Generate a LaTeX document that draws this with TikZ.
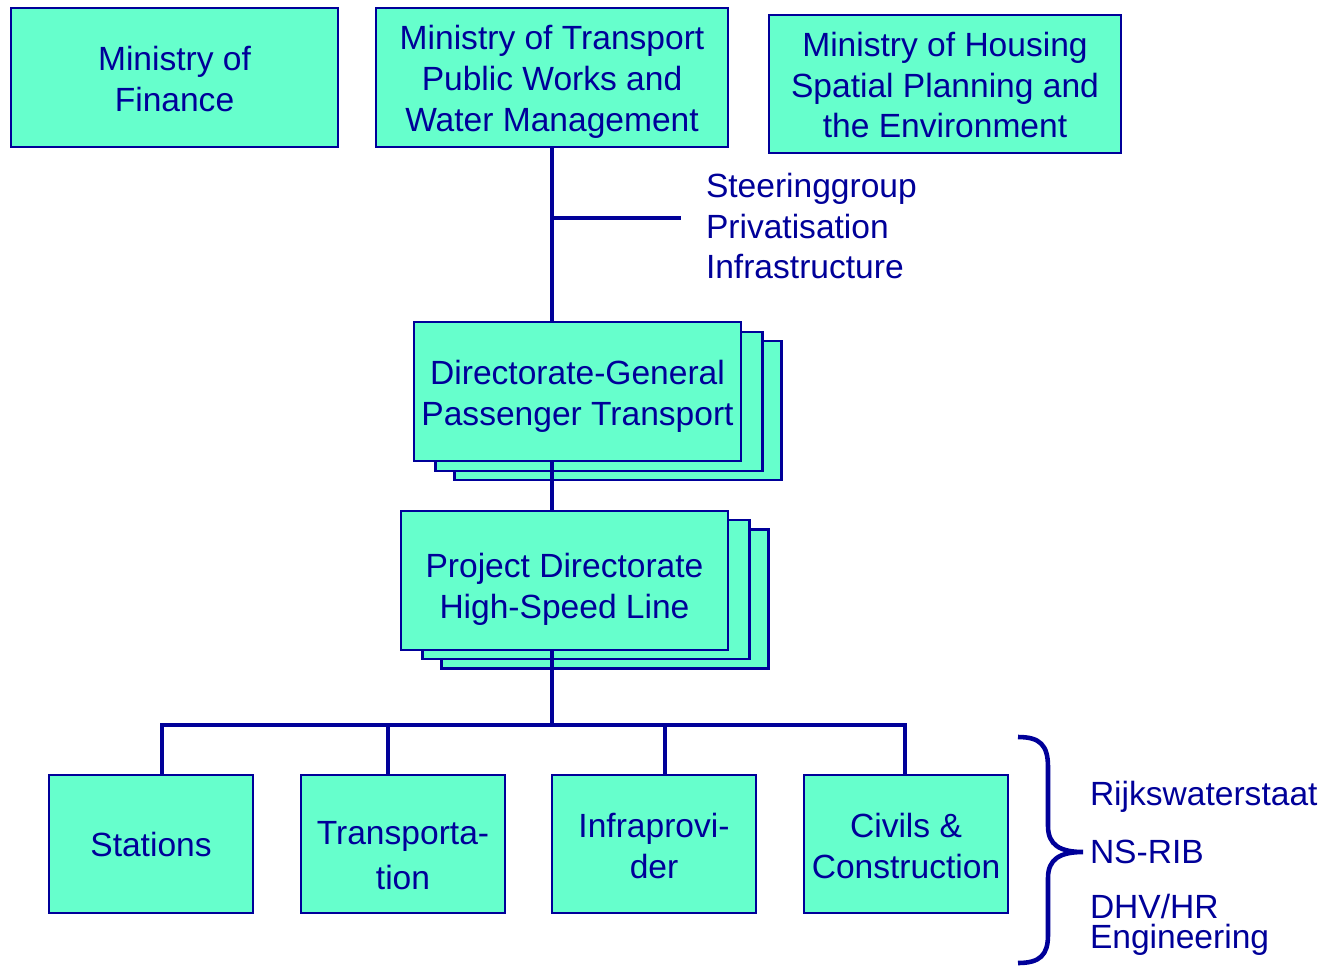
\documentclass[tikz,border=0pt]{standalone}
\usepackage{fontspec}
\setmainfont{Liberation Sans}
\usetikzlibrary{positioning,calc}
\definecolor{orgfill}{HTML}{66FFCC}
\definecolor{orgblue}{HTML}{000099}
\tikzset{
    % Define line style of the chart
    orgline/.style={
           draw=orgblue,
           line width=2.8pt,}
}
\newcommand{\boxheight}{2.78cm}

\begin{document}
\begin{tikzpicture}[x=0.02cm, y=-0.02cm, outer sep=0pt, text=orgblue,
    font=\fontsize{19.1}{23.3}\selectfont]
\tikzstyle{orgbox}=[draw=orgblue, fill=orgfill, rectangle, line width=1.2pt,
    minimum height=\boxheight, minimum width=6.54cm, inner sep=0pt, align=center]
%
\tikzstyle{widebox}=[orgbox, minimum width=7.04cm]
%
\tikzstyle{unitbox}=[orgbox, minimum width=4.08cm, minimum height=2.76cm]
%
\tikzstyle{sidetext}=[anchor=west, align=left, inner sep=0pt]

\useasboundingbox (0,0) rectangle (1323,965);

\node[orgbox] (fin) at (174.5,77.5) {\rule{0pt}{16pt}Ministry of\\ Finance};
\node[widebox] (trans) at (552,77.5) {\rule{0pt}{19pt}Ministry of Transport\\ Public Works and\\ Water Management};
\node[widebox, minimum height=2.76cm] (hous) at (945,84) {\rule{0pt}{15pt}Ministry of Housing\\ Spatial Planning and\\ the Environment};

\node[orgbox] (dgback2) at (618,410.5) {};
\node[orgbox] (dgback1) at (599,401.5) {};
\node[orgbox] (dg) at (577.5,391.5) {\rule{0pt}{19pt}Directorate-General\\ Passenger Transport};

\node[orgbox] (pdback2) at (605,599) {};
\node[orgbox] (pdback1) at (586,589.5) {};
\node[orgbox] (pd) at (564.5,580.5) {\rule{0pt}{23.5pt}Project Directorate\\ High-Speed Line};

\node[unitbox] (stations) at (151,844) {Stations};
\node[unitbox] (transp) at (403,844) {\rule{0pt}{26pt}Transporta-\\[2.3pt] tion};
\node[unitbox] (infra) at (654,844) {\rule{0pt}{16pt}Infraprovi-\\ der};
\node[unitbox] (civils) at (906,844) {\rule{0pt}{16pt}Civils \&\\ Construction};

\node[sidetext] (steer) at (706,226) {Steeringgroup\\ Privatisation\\ Infrastructure};
\coordinate (steerjoin) at (552,218);
\coordinate (steerend) at (681,218);
\coordinate (bus) at (552,725);

\draw[orgline] (trans.south) -- (trans.south |- dg.north);
\draw[orgline] (steerjoin) -- (steerend);
\draw[orgline] (trans.south |- dg.south) -- (trans.south |- pd.north);
\draw[orgline] (trans.south |- pd.south) -- (bus);
\draw[orgline] ($(stations.north)+(11,0)$) |- ($(civils.north)+(-1,-50)$) -- ($(civils.north)+(-1,0)$);
\draw[orgline] ($(transp.north)+(-15,0)$) -- ++(0,-50);
\draw[orgline] ($(infra.north)+(11,0)$) -- ++(0,-50);

% brace round the three contractors
\draw[orgline, line width=2.6pt] (1018,737) .. controls (1040,737) and (1048,745) .. (1048,767)
    -- (1048,826) .. controls (1048,845) and (1060,852) .. (1083,852)
    .. controls (1060,852) and (1048,859) .. (1048,878)
    -- (1048,935) .. controls (1048,955) and (1040,963) .. (1018,963);

\node[sidetext] (rws) at (1090,797) {Rijkswaterstaat};
\node[sidetext] (nsrib) at (1090,852) {NS-RIB};
\node[sidetext, font=\fontsize{19.1}{17}\selectfont] (dhv) at (1090,925) {DHV/HR\\ Engineering};

\end{tikzpicture}
\end{document}
